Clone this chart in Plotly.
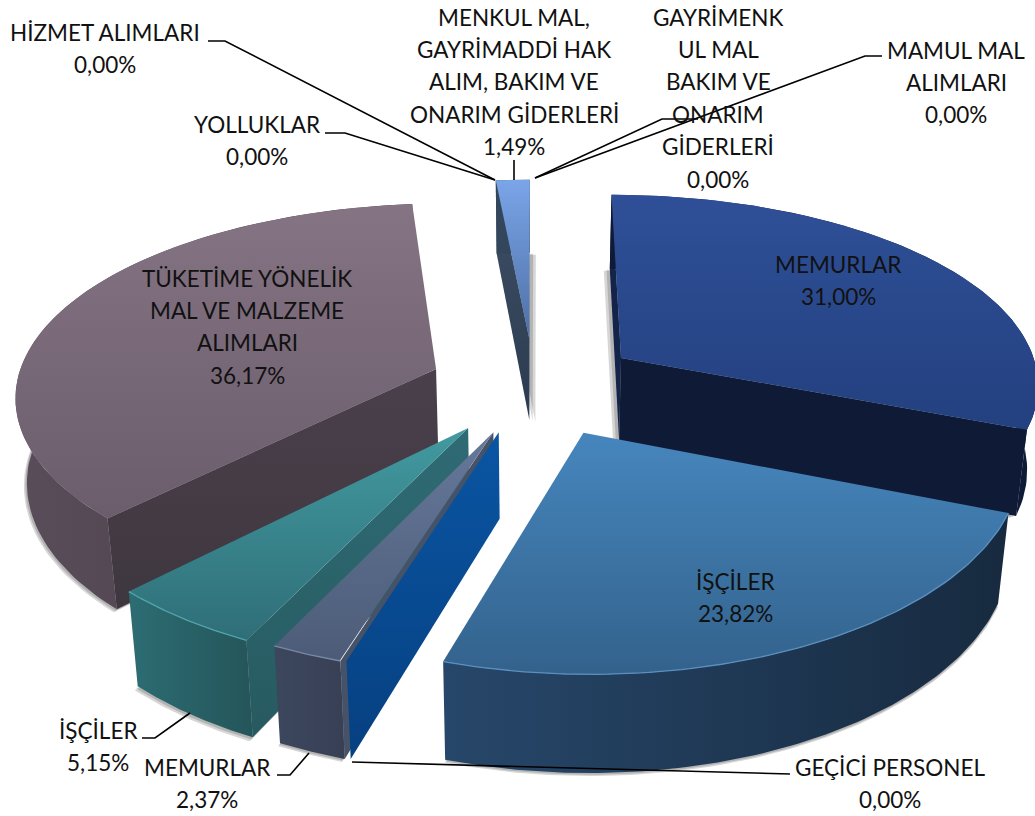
import numpy as np
import plotly.graph_objects as go

# ---- data ----
names = ["MEMURLAR", "İŞÇİLER", "GEÇİCİ PERSONEL", "MEMURLAR", "İŞÇİLER",
         "TÜKETİME YÖNELİK MAL VE MALZEME ALIMLARI", "YOLLUKLAR", "HİZMET ALIMLARI",
         "MENKUL MAL, GAYRİMADDİ HAK ALIM, BAKIM VE ONARIM GİDERLERİ",
         "GAYRİMENKUL MAL BAKIM VE ONARIM GİDERLERİ", "MAMUL MAL ALIMLARI"]
values = [31.00, 23.82, 0.00, 2.37, 5.15, 36.17, 0.00, 0.00, 1.49, 0.00, 0.00]
explode = [0.255, 0.265, 0.0, 0.255, 0.265, 0.25, 0.0, 0.0, 0.25, 0.0, 0.0]

top_colors = ["#2F5098,#23407F", "#4686BD,#33628C", "", "#66789A,#4C5C78", "#429AA0,#2F6E78",
              "#857483,#6B5D6C", "", "", "#7AA5E8,#4E6FA5", "", ""]
wall_colors = ["#0F1A36", "#27476A|#172A3F", "", "#3C465D|#374055", "#2C6D73|#24555A", "#5A4D5A|#463B47",
               "", "", "#34465C", "", ""]
rim_colors = [None, "#5A8FBF", None, "#7A88A5", "#4FA5A8", None, None, None, None, None, None]
start_cut = ["#14234A", "#234464", "", "#0A55A3,#064080", "#2F6B75,#275A60", "#4A404C,#3F373F",
             "", "", "#3E5068,#2C3B4E", "", ""]
end_cut = ["#0F1A36", "#234464", "", "#465268", "#2F6B75", "#433B45", "", "", "#2C3B4E", "", ""]
bevel_px = [0, 0, 0, 6, 0, 0, 0, 0, 0, 0, 0]
shadow_px = [(-6, 2), (0, 3), None, (-2, 3), (-3, 4), (-3, 3), None, None, (6, 2), None, None]

labels = [
    (["MEMURLAR", "31,00%"], 838, 264),
    (["İŞÇİLER", "23,82%"], 735, 581),
    (["GEÇİCİ PERSONEL", "0,00%"], 890, 767),
    (["MEMURLAR", "2,37%"], 207, 767),
    (["İŞÇİLER", "5,15%"], 98, 730),
    (["TÜKETİME YÖNELİK", "MAL VE MALZEME", "ALIMLARI", "36,17%"], 247, 278),
    (["YOLLUKLAR", "0,00%"], 257, 124),
    (["HİZMET ALIMLARI", "0,00%"], 105, 32),
    (["MENKUL MAL,", "GAYRİMADDİ HAK", "ALIM, BAKIM VE", "ONARIM GİDERLERİ", "1,49%"], 514, 17),
    (["GAYRİMENK", "UL MAL", "BAKIM VE", "ONARIM", "GİDERLERİ", "0,00%"], 718, 17),
    (["MAMUL MAL", "ALIMLARI", "0,00%"], 956, 50),
]
leaders = [
    ([208, 225, 495], [41, 41, 180]),
    ([325, 345, 495], [133, 133, 180]),
    ([514, 514], [160, 180]),
    ([698, 662, 535], [119, 119, 178]),
    ([882, 865, 535], [56, 56, 178]),
    ([142, 155, 190], [738, 738, 713]),
    ([277, 290, 309], [775, 775, 753]),
    ([352, 790], [762, 774]),
]

# ---- projection ----
CX, CY, RX, RY, K, KX, KZ, DEPTH, SHRINK = 534, 385, 420, 193, 0.14, 0.125, 0.12, 84, 0.022


def project(X, Y, z=0.0):
    X = np.asarray(X, float)
    Y = np.asarray(Y, float)
    x = CX + RX * X / (1 + KX * Y) * (1 - SHRINK * z)
    y = CY - RY * Y / (1 + K * Y) + DEPTH * z / (1 + KZ * Y)
    return x, y


def area(xs, ys):
    xs, ys = np.asarray(xs), np.asarray(ys)
    return np.sum(xs * np.roll(ys, -1) - np.roll(xs, -1) * ys)


def poly(fig, xs, ys, col):
    xs = list(xs) + [xs[0]]
    ys = list(ys) + [ys[0]]
    kw = {}
    if "|" in col:
        c0, c1 = col.split("|")
        kw["fillgradient"] = dict(type="horizontal", colorscale=[[0, c0], [1, c1]])
    elif "," in col and not col.startswith("rgba"):
        c0, c1 = col.split(",")
        kw["fillgradient"] = dict(type="vertical", colorscale=[[0, c1], [1, c0]])
    else:
        kw["fillcolor"] = col
    fig.add_trace(go.Scatter(x=xs, y=ys, mode="lines", fill="toself",
                             line=dict(width=0), hoverinfo="skip", showlegend=False, **kw))


fig = go.Figure()
cum = np.cumsum([0] + values)
order = [8, 0, 5, 4, 3, 1]
for i in order:
    a0, a1 = np.radians(cum[i] * 3.6), np.radians(cum[i + 1] * 3.6)
    mid = (a0 + a1) / 2
    ox, oy = explode[i] * np.sin(mid), explode[i] * np.cos(mid)
    th = np.linspace(a0, a1, 90)
    ex, ey = ox + np.sin(th), oy + np.cos(th)
    # soft shadow under the slice
    ax1, ay1 = project(ox, oy, 1)
    bx, by = project(ex, ey, 1)
    sx, sy = shadow_px[i]
    for f in (1.0, 0.55):
        poly(fig, [float(ax1) + sx * f] + list(bx + sx * f), [float(ay1) + sy * f] + list(by + sy * f),
             "rgba(0,0,0,0.16)")
    # cut faces
    for ang, col, sign in ((a0, start_cut[i], -1), (a1, end_cut[i], 1)):
        ax_, ay_ = ox + np.sin(ang), oy + np.cos(ang)
        pts = [project(ox, oy), project(ax_, ay_), project(ax_, ay_, 1), project(ox, oy, 1)]
        qx, qy = map(lambda v: [float(a) for a in v], zip(*pts))
        if area(qx, qy) * sign > 0:
            if bevel_px[i] and sign < 0:
                poly(fig, qx, qy, end_cut[i])
                qx = [qx[0] + bevel_px[i] * 0.9, qx[1] + bevel_px[i], qx[2] + bevel_px[i], qx[3] + bevel_px[i] * 0.9]
            poly(fig, qx, qy, col)
    # outer wall
    tx, ty = project(ex, ey)
    poly(fig, list(tx) + list(bx[::-1]), list(ty) + list(by[::-1]), wall_colors[i])
    # top face
    ax0, ay0 = project(ox, oy)
    poly(fig, [float(ax0)] + list(tx), [float(ay0)] + list(ty), top_colors[i])
    if rim_colors[i]:
        fig.add_trace(go.Scatter(x=tx, y=ty, mode="lines", line=dict(color=rim_colors[i], width=1.3),
                                 hoverinfo="skip", showlegend=False))

for lx, ly in leaders:
    fig.add_trace(go.Scatter(x=lx, y=ly, mode="lines", line=dict(color="black", width=1.6),
                             hoverinfo="skip", showlegend=False))

LINE = 32.4
for lines, cx, y0 in labels:
    for j, t in enumerate(lines):
        fig.add_annotation(x=cx, y=y0 + j * LINE, text=t, showarrow=False,
                           xanchor="center", yanchor="middle",
                           font=dict(family="Lato", size=22.5, color="#111111"))

fig.update_layout(width=1035, height=816, margin=dict(l=0, r=0, t=0, b=0),
                  paper_bgcolor="white", plot_bgcolor="white", showlegend=False,
                  xaxis=dict(range=[0, 1035], visible=False, fixedrange=True),
                  yaxis=dict(range=[816, 0], visible=False, fixedrange=True))
fig.write_html("out.html", config={"displayModeBar": False},
               post_script="document.body.style.margin='0';document.body.style.overflow='hidden';")
